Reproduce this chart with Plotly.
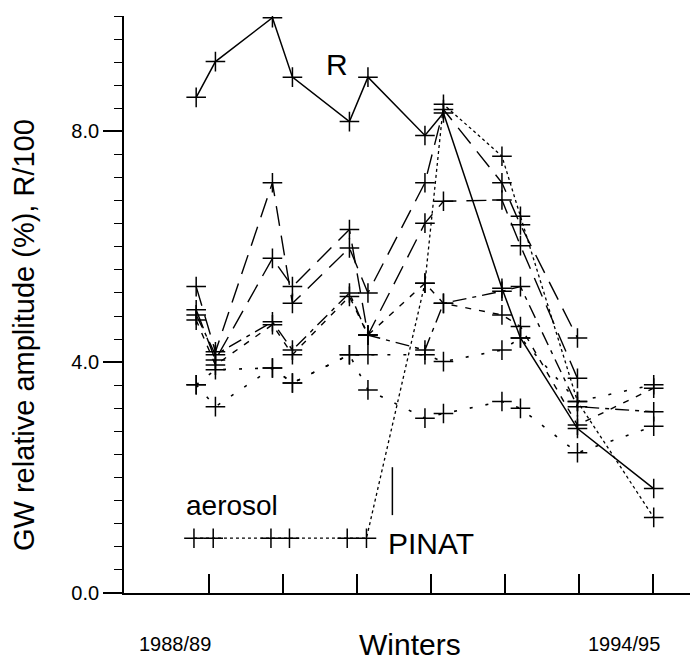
import plotly.graph_objects as go

# winter sample positions (decimal years)
winters = [1988.83, 1989.09, 1989.86, 1990.13, 1990.90, 1991.15,
           1991.92, 1992.17, 1992.96, 1993.21, 1993.98, 1995.01]
aerosol_x = [1988.80, 1989.06, 1989.84, 1990.09, 1990.87, 1991.13,
             1991.92, 1992.17, 1992.96, 1993.21, 1993.98, 1995.01]

r_sun = [8.59, 9.21, 9.97, 8.94, 8.17, 8.94, 7.93, 8.32, 5.28, 4.42, 2.85, 1.81]
aerosol = [0.95, 0.95, 0.95, 0.95, 0.95, 0.95, 5.37, 8.47, 7.57, 6.53, 3.32, 1.31]

gw_1 = [5.31, 4.18, 7.11, 5.02, 5.98, 5.20, 7.11, 8.38, 7.11, 6.38, 4.42, None]
gw_2 = [4.91, 4.04, 5.80, 5.31, 6.30, 4.47, 6.41, 6.79, 6.81, 6.02, 3.72, None]
gw_3 = [4.82, 4.13, 4.70, 4.21, 5.20, 4.47, 4.21, 5.02, 5.23, 5.31, 3.23, 3.14]
gw_4 = [4.73, 3.95, 4.65, 4.13, 5.14, 4.47, 5.37, 5.02, 4.82, 4.62, 2.91, 3.55]
gw_5 = [3.61, 3.87, 3.90, 3.64, 4.13, 4.13, 4.13, 4.01, 4.21, 4.42, 3.32, 3.61]
gw_6 = [3.61, 3.23, 3.90, 3.64, 4.13, 3.52, 3.03, 3.11, 3.32, 3.20, 2.43, 2.89]

year_ticks = [1989, 1990, 1991, 1992, 1993, 1994, 1995]
y_ticks = [0, 4, 8]
y_tick_text = ["0.0", "4.0", "8.0"]

FONT = "Liberation Sans, Arial, sans-serif"

fig = go.Figure()

def add(xs, ys, dash, width=1.4):
    fig.add_trace(go.Scatter(
        x=xs, y=ys, mode="lines+markers",
        line=dict(color="black", width=width, dash=dash),
        marker=dict(symbol="cross-thin", size=14,
                    line=dict(color="black", width=1.5)),
        showlegend=False, hoverinfo="skip"))

add(winters, gw_6, "3px,13px", 1.6)
add(winters, gw_5, "3px,13px", 1.6)
add(winters, gw_4, "6px,8px", 1.4)
add(winters, gw_3, "14px,6px,4px,6px", 1.4)
add(winters, gw_2, "20px,10px", 1.4)
add(winters, gw_1, "20px,10px", 1.4)
add(aerosol_x, aerosol, "3px,3px", 1.3)
add(winters, r_sun, "solid", 1.5)

# Pinatubo marker
fig.add_shape(type="line", x0=1991.48, x1=1991.48, y0=1.35, y1=2.18,
              xref="x", yref="y", line=dict(color="black", width=1.5))

ann = [
    dict(text="R", x=1990.73, y=9.16, size=30),
    dict(text="aerosol", x=1989.31, y=1.52, size=28),
    dict(text="PINAT", x=1992.0, y=0.85, size=30),
]
for a in ann:
    fig.add_annotation(text=a["text"], x=a["x"], y=a["y"], xref="x", yref="y",
                       showarrow=False, xanchor="center", yanchor="middle",
                       font=dict(family=FONT, size=a["size"], color="black"))

below = [
    dict(text="1988/89", x=1988.54, y=-0.088, size=20),
    dict(text="1994/95", x=1994.61, y=-0.088, size=20),
    dict(text="Winters", x=1991.72, y=-0.090, size=30),
]
for a in below:
    fig.add_annotation(text=a["text"], x=a["x"], y=a["y"], xref="x", yref="paper",
                       showarrow=False, xanchor="center", yanchor="middle",
                       font=dict(family=FONT, size=a["size"], color="black"))

fig.add_annotation(text="GW relative amplitude (%), R/100", textangle=-90,
                   x=(24 - 124) / 566, y=4.47, xref="paper", yref="y",
                   showarrow=False, xanchor="center", yanchor="middle",
                   font=dict(family=FONT, size=29, color="black"))

fig.update_layout(
    width=690, height=660,
    margin=dict(l=124, r=0, t=16, b=67),
    paper_bgcolor="white", plot_bgcolor="white",
    xaxis=dict(range=[1987.855, 1995.5], showgrid=False, zeroline=False,
               showline=True, linecolor="black", linewidth=1.8,
               tickvals=year_ticks, ticks="inside", ticklen=19,
               tickwidth=1.5, tickcolor="black", showticklabels=False),
    yaxis=dict(range=[0, 10], showgrid=False, zeroline=False,
               showline=True, linecolor="black", linewidth=1.8,
               tickvals=y_ticks, ticktext=y_tick_text, ticks="outside",
               ticklen=19, tickwidth=1.5, tickcolor="black",
               tickfont=dict(family=FONT, size=20, color="black"),
               minor=dict(dtick=0.4, tick0=0, ticks="outside", ticklen=8,
                          tickwidth=1.2, tickcolor="black")),
)

fig.write_html("out.html")
